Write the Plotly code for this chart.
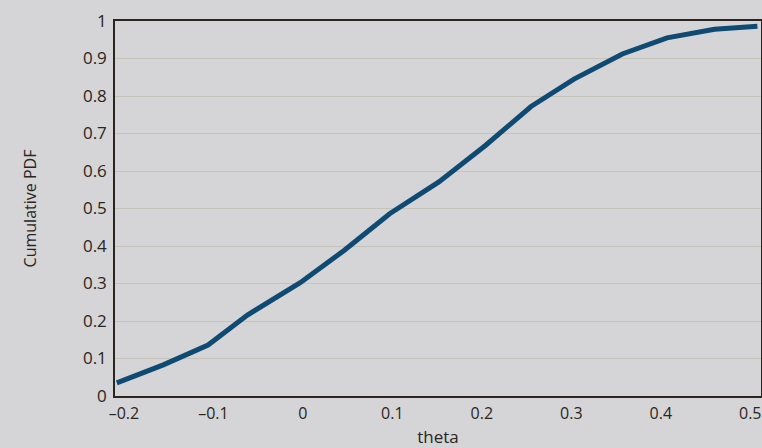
import plotly.graph_objects as go

theta = [-0.208, -0.156, -0.106, -0.062, -0.003, 0.046, 0.097, 0.152, 0.204, 0.255, 0.303, 0.357, 0.407, 0.460, 0.508]
cum_pdf = [0.035, 0.083, 0.136, 0.216, 0.302, 0.388, 0.486, 0.571, 0.668, 0.772, 0.845, 0.912, 0.955, 0.978, 0.986]

x_tickvals = [-0.2, -0.1, 0, 0.1, 0.2, 0.3, 0.4, 0.5]
x_ticktext = ["\u20130.2", "\u20130.1", "0", "0.1", "0.2", "0.3", "0.4", "0.5"]
y_tickvals = [0, 0.1, 0.2, 0.3, 0.4, 0.5, 0.6, 0.7, 0.8, 0.9, 1]
y_ticktext = ["0", "0.1", "0.2", "0.3", "0.4", "0.5", "0.6", "0.7", "0.8", "0.9", "1"]

BG = "#d5d5d7"
INK = "#2b2520"
FONT = "Open Sans"

fig = go.Figure()
fig.add_trace(go.Scatter(x=theta, y=cum_pdf, mode="lines",
                         line=dict(color="#0f4a72", width=5),
                         showlegend=False, hoverinfo="skip"))

fig.update_layout(
    width=762, height=448,
    margin=dict(l=115, r=1, t=21, b=52),
    paper_bgcolor=BG, plot_bgcolor=BG,
    font=dict(family=FONT, size=16, color=INK),
)
fig.update_xaxes(
    range=[-0.21, 0.512], tickvals=x_tickvals, ticktext=x_ticktext,
    showgrid=False, zeroline=False, showline=True, linecolor=INK, linewidth=1.5,
    mirror=True, ticks="", automargin=False, ticklabelstandoff=2,
    ticklabeloverflow="allow",
    tickfont=dict(size=16, color=INK),
    title=dict(text="theta", font=dict(size=17, color=INK), standoff=13),
)
fig.update_yaxes(
    range=[0, 1], tickvals=y_tickvals, ticktext=y_ticktext,
    showgrid=True, gridcolor="#c6c4b8", gridwidth=1.2,
    zeroline=False, showline=True, linecolor=INK, linewidth=1.5,
    mirror=True, ticks="", automargin=False, ticklabelstandoff=3,
    tickfont=dict(size=17, color=INK),
    title=dict(text="Cumulative PDF", font=dict(size=16, color=INK), standoff=42),
)

fig.write_html("out.html", config={"displayModeBar": False},
               post_script="document.body.style.margin='0px';document.body.style.background='#d5d5d7';")
